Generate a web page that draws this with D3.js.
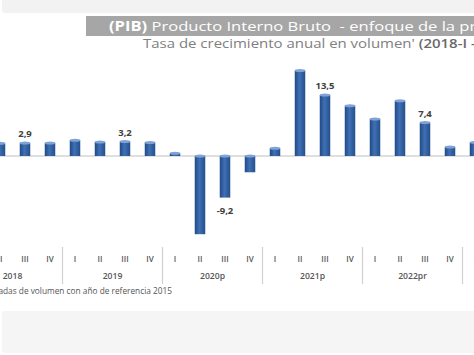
<!DOCTYPE html>
<html>
<head>
<meta charset="utf-8">
<script src="https://cdn.jsdelivr.net/npm/d3@7"></script>
<style>
  html, body { margin: 0; padding: 0; background: #fff; overflow: hidden; }
  svg { display: block; font-family: "Open Sans", "Noto Sans", sans-serif; }
</style>
</head>
<body>
<svg id="chart" width="474" height="355"></svg>
<script>
// ---- data ----
const years = ["2018", "2019", "2020p", "2021p", "2022pr", "2023pr"];
const quarters = ["I", "II", "III", "IV"];
const quarterCounts = [4, 4, 4, 4, 4, 1];
const values = [1.8, 2.8, 2.9, 2.9, 3.5, 3.1, 3.2, 3.0, 0.6, -17.3, -9.2, -3.6, 1.7, 18.9, 13.5, 11.1, 8.2, 12.2, 7.4, 2.0, 3.0];
const labeledIdx = [2, 6, 10, 14, 18];
const labelTexts = ["2,9", "3,2", "-9,2", "13,5", "7,4"];
const titleBold = "(PIB)";
const titleRest = " Producto Interno Bruto  - enfoque de la producción";
const subtitle = "Tasa de crecimiento anual en volumen' ";
const subtitleRange = "(2018-I - 2023-I)";
const footnote = "¹Series encadenadas de volumen con año de referencia 2015";

// build categories
const cats = [];
years.forEach((y, yi) => {
  for (let q = 0; q < quarterCounts[yi]; q++) cats.push({ year: y, yi: yi, q: quarters[q], key: y + "-" + quarters[q] });
});
cats.forEach((c, i) => c.value = values[i]);

const svg = d3.select("#chart");
const W = 474, H = 355;

// backgrounds
svg.append("rect").attr("x", 2).attr("y", -4).attr("width", 480).attr("height", 17).attr("rx", 3).attr("fill", "#f2f2f2");
svg.append("rect").attr("x", 2).attr("y", 311).attr("width", 480).attr("height", 42).attr("rx", 2).attr("fill", "#f5f5f5");

// title banner
svg.append("rect").attr("x", 86).attr("y", 16).attr("width", 400).attr("height", 20).attr("fill", "#a6a6a6");
const t = svg.append("text").attr("transform", "translate(109,31) scale(1.245,1)")
  .attr("fill", "#fff").attr("font-size", 13.3).style("white-space", "pre");
t.append("tspan").attr("font-weight", 700).text(titleBold);
t.append("tspan").text(titleRest);

const st = svg.append("text").attr("transform", "translate(143,48) scale(1.19,1)")
  .attr("fill", "#808080").attr("font-size", 12.6).style("white-space", "pre");
st.append("tspan").text(subtitle);
st.append("tspan").attr("font-weight", 600).attr("fill", "#6a6a6a").text(subtitleRange);

// scales
const x = d3.scaleBand().domain(cats.map(c => c.key)).range([-37.5, -37.5 + 25 * cats.length]).padding(0);
const y = d3.scaleLinear().domain([-20, 20]).range([246.4, 65.6]);
const barW = x.bandwidth() * 0.42;

// gradient
const defs = svg.append("defs");
const g = defs.append("linearGradient").attr("id", "barGrad").attr("x1", 0).attr("x2", 1).attr("y1", 0).attr("y2", 0);
g.append("stop").attr("offset", "0%").attr("stop-color", "#1f4a86");
g.append("stop").attr("offset", "45%").attr("stop-color", "#3f6fb4");
g.append("stop").attr("offset", "100%").attr("stop-color", "#244f8c");

// baseline
svg.append("line").attr("x1", 0).attr("x2", W).attr("y1", y(0)).attr("y2", y(0)).attr("stroke", "#c0c0c0").attr("stroke-width", 1.2);

// bars
const bars = svg.append("g").selectAll("g").data(cats).join("g");
bars.append("rect")
  .attr("x", d => x(d.key) + (x.bandwidth() - barW) / 2)
  .attr("y", d => Math.min(y(d.value), y(0)))
  .attr("width", barW)
  .attr("height", d => Math.max(2, Math.abs(y(d.value) - y(0))))
  .attr("fill", "url(#barGrad)");
bars.append("ellipse")
  .attr("cx", d => x(d.key) + x.bandwidth() / 2)
  .attr("cy", d => d.value >= 0 ? y(d.value) : y(0))
  .attr("rx", barW / 2)
  .attr("ry", 1.5)
  .attr("fill", "#7fa3d6");

// value labels
svg.append("g").selectAll("text").data(labeledIdx).join("text")
  .attr("x", i => x(cats[i].key) + x.bandwidth() / 2)
  .attr("y", i => cats[i].value >= 0 ? y(cats[i].value) - 6 : y(cats[i].value) + 16)
  .attr("text-anchor", "middle")
  .attr("font-size", 9.5)
  .attr("font-weight", 700)
  .attr("fill", "#404040")
  .text((i, k) => labelTexts[k]);

// quarter labels
svg.append("g").selectAll("text").data(cats).join("text")
  .attr("x", d => x(d.key) + x.bandwidth() / 2)
  .attr("y", 262)
  .attr("text-anchor", "middle")
  .attr("font-size", 8)
  .attr("font-weight", 600)
  .attr("fill", "#555")
  .text(d => d.q);

// year labels (centred on a full four-quarter span) and separators
const step = x.step();
const yearGroups = years.map((yr, yi) => {
  const cs = cats.filter(c => c.yi === yi);
  const start = x(cs[0].key);
  return { year: yr, start: start, center: start + step * quarters.length / 2 };
});
svg.append("g").selectAll("text").data(yearGroups).join("text")
  .attr("x", d => d.center)
  .attr("y", 279)
  .attr("text-anchor", "middle")
  .attr("font-size", 8.6)
  .attr("font-weight", 600)
  .attr("fill", "#555")
  .text(d => d.year);
svg.append("g").selectAll("line").data(yearGroups.slice(1)).join("line")
  .attr("x1", d => d.start).attr("x2", d => d.start)
  .attr("y1", 247).attr("y2", 284)
  .attr("stroke", "#cfcfcf").attr("stroke-width", 1.2);

// footnote
svg.append("text").attr("x", 172).attr("y", 294).attr("text-anchor", "end")
  .attr("font-size", 8.3).attr("fill", "#555").text(footnote);
</script>
</body>
</html>
